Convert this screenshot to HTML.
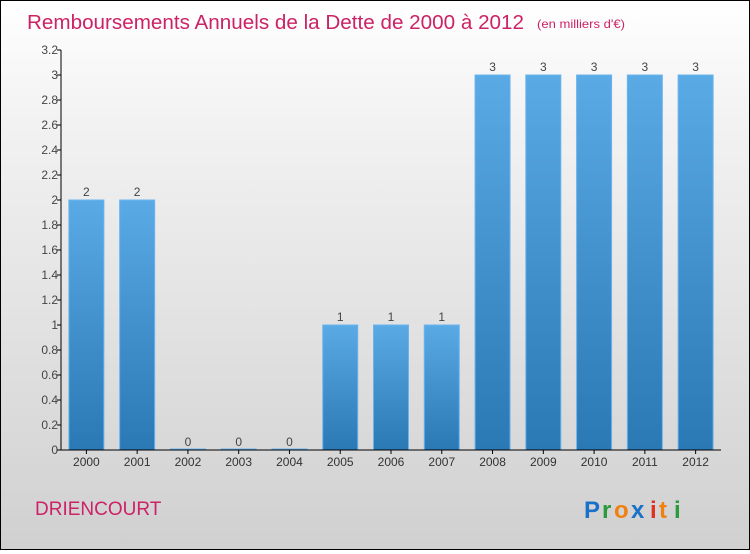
<!DOCTYPE html>
<html><head><meta charset="utf-8"><style>
body{margin:0}
#c{width:748px;height:548px;border:1px solid #000;background:linear-gradient(#fff,#f3f3f3 20%,#d0d0d0);position:relative;font-family:"Liberation Sans",sans-serif}
</style></head><body>
<div id="c">
<svg width="748" height="548" id="s">
<text x="26" y="28" font-size="20" fill="#cc2266" textLength="497" lengthAdjust="spacingAndGlyphs">Remboursements Annuels de la Dette de 2000 à 2012</text>
<text x="536" y="27" font-size="12" fill="#cc2266" textLength="88" lengthAdjust="spacingAndGlyphs">(en milliers d'€)</text>
<text x="34" y="514" font-size="19" fill="#cc2266">DRIENCOURT</text>
<g font-size="24" font-weight="bold">
<text x="583" y="517" fill="#1a72c8">P</text><text x="601" y="517" fill="#2a9a3a">r</text><text x="613" y="517" fill="#f08010">o</text><text x="630" y="517" fill="#1a72c8">x</text><text x="649" y="517" fill="#e03020">i</text><text x="658" y="517" fill="#f08010">t</text><text x="673" y="517" fill="#2a9a3a">i</text>
</g>
<defs><linearGradient id="g" x1="0" y1="0" x2="0" y2="1"><stop offset="0" stop-color="#5aaae6"/><stop offset="1" stop-color="#2a78b4"/></linearGradient></defs>
<g id="plot"></g>
</svg></div>
<script>
const categories=["2000","2001","2002","2003","2004","2005","2006","2007","2008","2009","2010","2011","2012"];
const values=[2,2,0,0,0,1,1,1,3,3,3,3,3];
const tickValues=[0,0.2,0.4,0.6,0.8,1,1.2,1.4,1.6,1.8,2,2.2,2.4,2.6,2.8,3,3.2];
const tickLabels=["0","0.2","0.4","0.6","0.8","1","1.2","1.4","1.6","1.8","2","2.2","2.4","2.6","2.8","3","3.2"];
const ns="http://www.w3.org/2000/svg",p=document.getElementById('plot');
const X0=60,Y0=449,band=50.77,yMax=3.2,H=400;
const y=v=>Y0-v/yMax*H, x=i=>X0+band*i+band/2;
function mk(t,a,txt){const e=document.createElementNS(ns,t);for(const k in a)e.setAttribute(k,a[k]);if(txt!=null)e.textContent=txt;p.appendChild(e);return e;}
values.forEach((v,i)=>{
 const h=Math.max(Y0-y(v),1);
 const r=mk('rect',{x:x(i)-17.5,y:Y0-h,width:35,height:h,fill:'url(#g)',stroke:'#6ab4ee','stroke-width':1});
 
 
 const t=mk('text',{x:x(i),y:y(v)-4,'font-size':12,fill:'#444','text-anchor':'middle'},String(v));
 
 
 const c=mk('text',{x:x(i),y:Y0+16,'font-size':12,fill:'#333','text-anchor':'middle'},categories[i]);
 
 
 mk('line',{x1:x(i),x2:x(i),y1:Y0,y2:Y0+4,stroke:'#000'});
});
tickValues.forEach((v,i)=>{
 mk('line',{x1:X0-4,x2:X0,y1:y(v),y2:y(v),stroke:'#000'});
 const t=mk('text',{x:X0-3,y:y(v)+4,'font-size':12,fill:'#444','text-anchor':'end'},tickLabels[i]);
 
 
});
const ya=mk('line',{x1:X0,x2:X0,y1:y(yMax),y2:Y0,stroke:'#000'});


const xa=mk('line',{x1:X0-4,x2:X0+band*13,y1:Y0,y2:Y0,stroke:'#000'});


</script>
</body></html>
